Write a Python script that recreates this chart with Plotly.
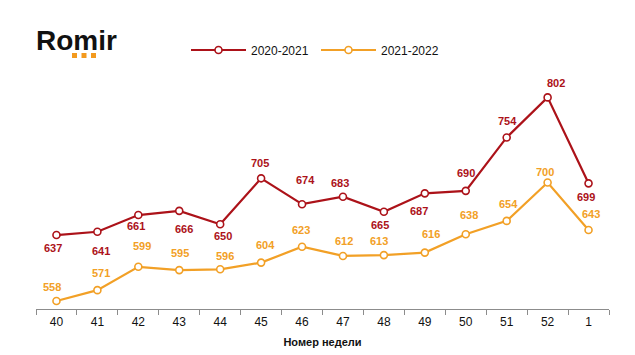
import plotly.graph_objects as go

weeks = ["40", "41", "42", "43", "44", "45", "46", "47", "48", "49", "50", "51", "52", "1"]
series_2020_2021 = [637, 641, 661, 666, 650, 705, 674, 683, 665, 687, 690, 754, 802, 699]
series_2021_2022 = [558, 571, 599, 595, 596, 604, 623, 612, 613, 616, 638, 654, 700, 643]
series_names = ["2020-2021", "2021-2022"]
x_title = "Номер недели"

# label offsets (pixels, dx right, dy down) — styling only
red_dx = [-3, 4, -2, 5, 3, -1, 3, -3, -4, -6, 0, 1, 8, -3]
red_dy = [13, 19, 11, 18, 12, -15, -24, -14, 13, 18, -18, -16, -14, 14]
org_dx = [-4, 4, 4, 1, 5, 4, -1, 1, -5, 6, 3, 2, -3, 2]
org_dy = [-14, -17, -21, -17, -13, -18, -17, -15, -14, -19, -19, -17, -11, -16]

RED = "#AC1219"
ORANGE = "#F2A026"
FONT = "Liberation Sans, Arial, sans-serif"

OFF = 8  # page body margin
W, H = 635 - OFF, 355 - OFF
L, R, T, B = 36 - OFF, 26, 40 - OFF, 46
PW, PH = W - L - R, H - T - B


def px(xp):
    return (xp - OFF - L) / PW


def py(yp):
    return (H - B - (yp - OFF)) / PH


fig = go.Figure()
for name, vals, col in [(series_names[0], series_2020_2021, RED), (series_names[1], series_2021_2022, ORANGE)]:
    fig.add_trace(go.Scatter(
        x=weeks, y=vals, name=name, mode="lines+markers",
        line=dict(color=col, width=2.2),
        marker=dict(symbol="circle", size=7, color="white", line=dict(color=col, width=1.6)),
        hoverinfo="x+y",
    ))

ann = []
for vals, dxs, dys, col in [(series_2020_2021, red_dx, red_dy, RED), (series_2021_2022, org_dx, org_dy, ORANGE)]:
    for i, (v, dx, dy) in enumerate(zip(vals, dxs, dys)):
        ann.append(dict(x=i, y=v, xref="x", yref="y", text=str(v), showarrow=False, xshift=dx, yshift=-dy,
                        font=dict(family=FONT, size=11, color=col, weight="bold")))

ann.append(dict(xref="paper", yref="paper", x=px(34), y=py(40), xanchor="left", yanchor="middle",
                text="<b>Romir</b>", showarrow=False,
                font=dict(family=FONT, size=28, color="#111111")))

shapes = []
for x0 in (72, 81.5, 91):
    shapes.append(dict(type="rect", xref="paper", yref="paper", x0=px(x0), x1=px(x0 + 5),
                       y0=py(58), y1=py(53), fillcolor="#F39A1E", line=dict(width=0)))

fig.update_layout(
    width=W, height=H,
    margin=dict(l=L, r=R, t=T, b=B, autoexpand=False),
    paper_bgcolor="white", plot_bgcolor="white",
    font=dict(family=FONT, size=12, color="#111111"),
    showlegend=True,
    legend=dict(orientation="h", x=px(186), y=py(50), xanchor="left", yanchor="middle",
                font=dict(family=FONT, size=12, color="#111111"),
                itemwidth=55, entrywidth=60, entrywidthmode="pixels",
                bgcolor="rgba(0,0,0,0)"),
    xaxis=dict(type="category", showgrid=False, zeroline=False, automargin=False,
               showline=True, linecolor="#8C8C8C", linewidth=1,
               ticks="outside", tickson="boundaries", ticklen=5, tickcolor="#8C8C8C",
               ticklabelstandoff=2,
               tickfont=dict(family=FONT, size=12, color="#111111"),
               title=dict(text="<b>" + x_title + "</b>", font=dict(family=FONT, size=11, color="#111111"), standoff=9),
               range=[-0.5, len(weeks) - 0.5], fixedrange=True),
    yaxis=dict(visible=False, range=[548.4, 548.4 + PH / 0.8344], fixedrange=True),
    annotations=ann,
    shapes=shapes,
)

fig.write_html("out.html")
